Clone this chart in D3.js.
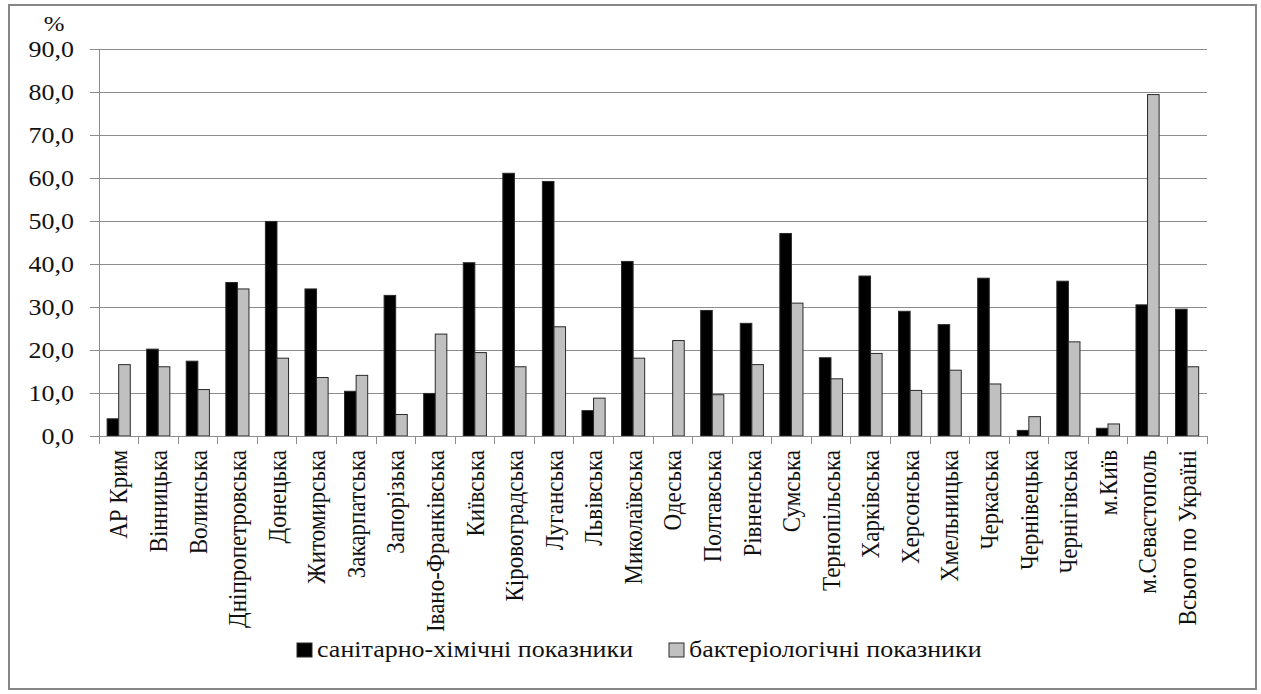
<!DOCTYPE html>
<html>
<head>
<meta charset="utf-8">
<script src="https://cdn.jsdelivr.net/npm/d3@7/dist/d3.min.js"></script>
</head>
<body style="margin:0;background:#fff">
<svg id="fig" width="1261" height="694"></svg>
<script>
// Регіони України
const regions = [
  "АР Крим", "Вінницька", "Волинська", "Дніпропетровська", "Донецька",
  "Житомирська", "Закарпатська", "Запорізька", "Івано-Франківська", "Київська",
  "Кіровоградська", "Луганська", "Львівська", "Миколаївська", "Одеська",
  "Полтавська", "Рівненська", "Сумська", "Тернопільська", "Харківська",
  "Херсонська", "Хмельницька", "Черкаська", "Чернівецька", "Чернігівська",
  "м.Київ", "м.Севастополь", "Всього по Україні"
];

// Частка проб, що не відповідають нормативам, %
const chemical = [
  4.0, 20.2, 17.4, 35.7, 49.9, 34.2, 10.4, 32.7, 9.9, 40.3,
  61.1, 59.2, 5.9, 40.6, 0.0, 29.2, 26.2, 47.1, 18.2, 37.2,
  29.0, 25.9, 36.7, 1.3, 36.0, 1.8, 30.5, 29.5
];
const bacterial = [
  16.6, 16.1, 10.8, 34.2, 18.1, 13.6, 14.1, 5.0, 23.7, 19.4,
  16.1, 25.4, 8.8, 18.1, 22.2, 9.6, 16.6, 30.9, 13.3, 19.2,
  10.6, 15.3, 12.1, 4.5, 21.9, 2.8, 79.4, 16.1
];

const seriesNames = ["санітарно-хімічні показники", "бактеріологічні показники"];
const seriesColors = ["#000000", "#c0c0c0"];
const yTicks = [0, 10, 20, 30, 40, 50, 60, 70, 80, 90];

const FONT = '"Liberation Serif"';
const FS = "23px";
const SX = 1.13;          // slight horizontal widening of the serif glyphs
const TEXT = "#111";

// apply the serif face to a text selection
function serif(sel, size) {
  sel.style("font-family", FONT, "important")
    .style("font-size", size || FS, "important")
    .style("fill", TEXT);
  return sel;
}

const svg = d3.select("#fig").style("display", "block");

// outer frame
svg.append("rect")
  .attr("x", 9).attr("y", 5)
  .attr("width", 1247).attr("height", 684)
  .attr("fill", "#fff")
  .attr("stroke", "#868686")
  .attr("stroke-width", 2);

const plot = { left: 99, right: 1207, top: 49, bottom: 436 };

const x0 = d3.scaleBand()
  .domain(regions)
  .range([plot.left, plot.right])
  .paddingInner(0).paddingOuter(0);

const bw = x0.bandwidth();
const x1 = d3.scaleBand()
  .domain([0, 1])
  .range([bw * 0.205, bw * 0.79]);

const y = d3.scaleLinear()
  .domain([0, 90])
  .range([plot.bottom, plot.top]);

// horizontal gridlines
svg.append("g")
  .selectAll("line")
  .data(yTicks.slice(1))
  .join("line")
  .attr("x1", plot.left).attr("x2", plot.right)
  .attr("y1", d => y(d)).attr("y2", d => y(d))
  .attr("stroke", "#8c8c8c")
  .attr("stroke-width", 1)
  .attr("shape-rendering", "crispEdges");

// y axis
const yAxis = d3.axisLeft(y)
  .tickValues(yTicks)
  .tickSize(9)
  .tickFormat(d => d.toFixed(1).replace(".", ","));

const gy = svg.append("g")
  .attr("transform", `translate(${plot.left},0)`)
  .call(yAxis);
gy.attr("font-family", null).attr("font-size", null);
gy.select(".domain").attr("stroke", "#8c8c8c").attr("shape-rendering", "crispEdges");
gy.selectAll(".tick line").attr("stroke", "#8c8c8c").attr("shape-rendering", "crispEdges");
gy.selectAll(".tick text")
  .attr("x", -25 / SX)
  .attr("dy", "0.33em")
  .attr("transform", `scale(${SX},1)`)
  .call(serif);

// unit label
svg.append("text")
  .attr("transform", `translate(54,31) scale(${SX},1)`)
  .attr("text-anchor", "middle")
  .call(serif, "22px")
  .text("%");

// bars
const groups = svg.append("g")
  .selectAll("g")
  .data(regions.map((r, i) => ({ region: r, values: [chemical[i], bacterial[i]] })))
  .join("g")
  .attr("transform", d => `translate(${x0(d.region)},0)`);

groups.selectAll("rect")
  .data(d => d.values.map((v, k) => ({ k, v })).filter(e => e.v > 0))
  .join("rect")
  .attr("x", d => x1(d.k))
  .attr("width", x1.bandwidth())
  .attr("y", d => y(d.v))
  .attr("height", d => y(0) - y(d.v))
  .attr("fill", d => seriesColors[d.k])
  .attr("stroke", "#2a2a2a")
  .attr("stroke-width", 1);

// x axis line and category separators
const gx = svg.append("g");
gx.append("line")
  .attr("x1", plot.left).attr("x2", plot.right)
  .attr("y1", y(0)).attr("y2", y(0))
  .attr("stroke", "#8c8c8c")
  .attr("shape-rendering", "crispEdges");

const bounds = regions.map(r => x0(r)).concat([plot.right]);
gx.selectAll("line.sep")
  .data(bounds)
  .join("line")
  .attr("class", "sep")
  .attr("x1", d => d).attr("x2", d => d)
  .attr("y1", y(0)).attr("y2", y(0) + 8)
  .attr("stroke", "#8c8c8c")
  .attr("shape-rendering", "crispEdges");

// rotated category labels
gx.selectAll("text")
  .data(regions)
  .join("text")
  .attr("transform", d => `translate(${x0(d) + bw / 2},${y(0) + 14}) scale(${SX},1) rotate(-90)`)
  .attr("text-anchor", "end")
  .attr("dy", "0.33em")
  .call(serif)
  .text(d => d);

// legend
const legend = svg.append("g");
const legendItems = [
  { x: 297, name: seriesNames[0], color: seriesColors[0] },
  { x: 669, name: seriesNames[1], color: seriesColors[1] }
];
legendItems.forEach(item => {
  legend.append("rect")
    .attr("x", item.x).attr("y", 643)
    .attr("width", 15).attr("height", 14)
    .attr("fill", item.color)
    .attr("stroke", "#2a2a2a")
    .attr("stroke-width", 1);
  legend.append("text")
    .attr("transform", `translate(${item.x + 20},657) scale(${SX},1)`)
    .call(serif)
    .text(item.name);
});
</script>
</body>
</html>
